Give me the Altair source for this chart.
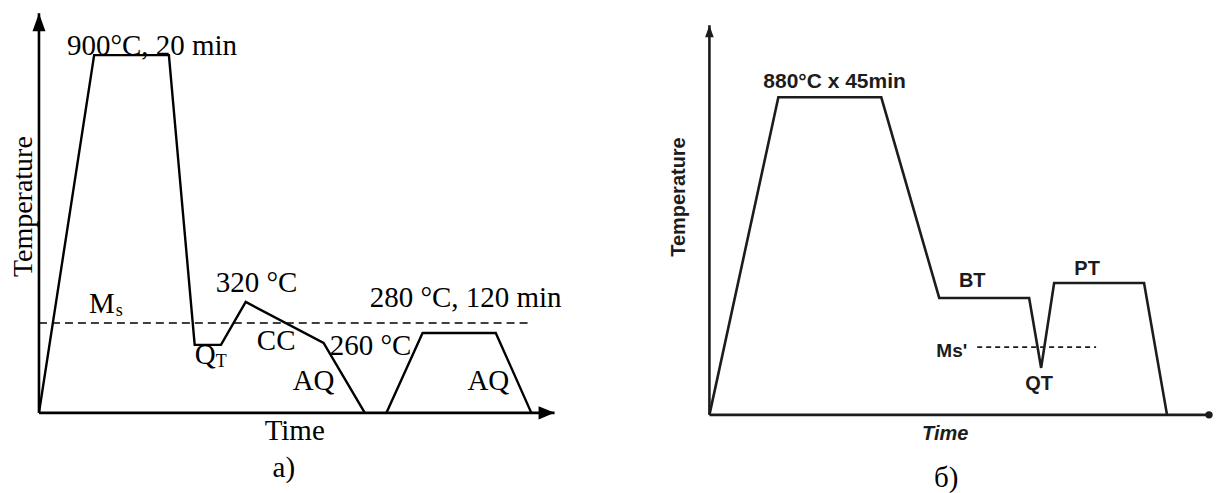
import altair as alt
import pandas as pd

# ---------------- Panel a) (schematic units: time 0..100, temperature 0..100) ----------------
a_time = [0, 10.7, 25.2, 30.2, 35.3, 40.1, 55.2, 63.2]
a_temp = [0, 89.5, 89.5, 17.0, 17.0, 27.75, 17.5, 0]
a2_time = [67.4, 74.4, 88.6, 95.5]
a2_temp = [0, 20, 20, 0]
a_ms_temp = 22.5
a_ms_end = 94.8

a_labels = ["900°C, 20 min", "320 °C", "280 °C, 120 min", "CC", "260 °C", "AQ", "AQ", "M", "Q"]
a_label_t = [5.43, 34.3, 64.15, 42.25, 56.4, 49.2, 83.1, 9.7, 30.2]
a_label_T = [89.5, 30.25, 26.5, 15.75, 14.5, 5.75, 5.75, 25.0, 12.25]
a_sub = ["s", "T"]
a_sub_t = [14.9, 34.3]
a_sub_T = [24.25, 11.5]

# ---------------- Panel б) ----------------
b_time = [0, 13.8, 34.4, 46.0, 64.0, 66.4, 69.0, 87.0, 91.6]
b_temp = [0, 81.5, 81.5, 30.0, 30.0, 12.05, 33.85, 33.85, 0]
b_ms_temp = 17.4
b_ms_start = 53.6
b_ms_end = 77.4

b_center_labels = ["BT", "PT", "QT"]
b_center_t = [52.6, 75.6, 66.0]
b_center_T = [32.8, 35.9, 6.4]

SERIF = "Liberation Serif"
SANS = "Liberation Sans"


def panel_a():
    xs = alt.Scale(domain=[-6.008, 108.72], nice=False, zero=False)
    ys = alt.Scale(domain=[-20, 101.25], nice=False, zero=False)
    X = lambda f: alt.X(f, type="quantitative", scale=xs, axis=None)
    Y = lambda f: alt.Y(f, type="quantitative", scale=ys, axis=None)

    l1 = pd.DataFrame({"t": a_time, "T": a_temp, "i": list(range(len(a_time)))})
    l2 = pd.DataFrame({"t": a2_time, "T": a2_temp, "i": list(range(len(a2_time)))})
    line1 = alt.Chart(l1).mark_line(color="black", strokeWidth=2.4).encode(X("t"), Y("T"), order="i:Q")
    line2 = alt.Chart(l2).mark_line(color="black", strokeWidth=2.4).encode(X("t"), Y("T"), order="i:Q")

    ms = pd.DataFrame({"t": [0], "t2": [a_ms_end], "T": [a_ms_temp]})
    msl = alt.Chart(ms).mark_rule(color="black", strokeWidth=1.6, strokeDash=[8, 5]).encode(
        X("t"), x2="t2:Q", y=Y("T"))

    ax = pd.DataFrame({"t": [0, 0], "t2": [100, 0], "T": [0, 0], "T2": [0, 100]})
    axes = alt.Chart(ax).mark_rule(color="black", strokeWidth=2.6).encode(
        X("t"), x2="t2:Q", y=Y("T"), y2="T2:Q")

    up = alt.Chart(pd.DataFrame({"t": [0], "T": [100]})).mark_point(
        shape="M0,0L-0.36,1L0.36,1Z", filled=True, opacity=1, color="black", size=1296, strokeWidth=0
    ).encode(X("t"), Y("T"))
    right = alt.Chart(pd.DataFrame({"t": [100], "T": [0]})).mark_point(
        shape="M0,0L-1,-0.42L-1,0.42Z", filled=True, opacity=1, color="black", size=1024, strokeWidth=0
    ).encode(X("t"), Y("T"))

    lab = pd.DataFrame({"t": a_label_t, "T": a_label_T, "s": a_labels})
    labels = alt.Chart(lab).mark_text(
        align="left", baseline="alphabetic", font=SERIF, fontSize=29, color="black"
    ).encode(X("t"), Y("T"), text="s:N")
    sub = pd.DataFrame({"t": a_sub_t, "T": a_sub_T, "s": a_sub})
    subs = alt.Chart(sub).mark_text(
        align="left", baseline="alphabetic", font=SERIF, fontSize=18, color="black"
    ).encode(X("t"), Y("T"), text="s:N")

    ttl_y = alt.Chart(pd.DataFrame({"t": [-2.9], "T": [51.6], "s": ["Temperature"]})).mark_text(
        align="center", baseline="middle", angle=270, font=SERIF, fontSize=28, color="black"
    ).encode(X("t"), Y("T"), text="s:N")
    ttl_x = alt.Chart(pd.DataFrame({"t": [49.6, 47.5], "T": [-6.75, -16.0], "s": ["Time", "a)"]})).mark_text(
        align="center", baseline="alphabetic", font=SERIF, fontSize=29, color="black"
    ).encode(X("t"), Y("T"), text="s:N")

    return alt.layer(axes, msl, line1, line2, up, right, labels, subs, ttl_y, ttl_x).properties(
        width=592, height=485)


def panel_b():
    xs = alt.Scale(domain=[-14, 100.6], nice=False, zero=False)
    ys = alt.Scale(domain=[-20, 104.36], nice=False, zero=False)
    X = lambda f: alt.X(f, type="quantitative", scale=xs, axis=None)
    Y = lambda f: alt.Y(f, type="quantitative", scale=ys, axis=None)
    ink = "#1c1c1c"

    l1 = pd.DataFrame({"t": b_time, "T": b_temp, "i": list(range(len(b_time)))})
    line1 = alt.Chart(l1).mark_line(color=ink, strokeWidth=2.6).encode(X("t"), Y("T"), order="i:Q")

    ms = pd.DataFrame({"t": [b_ms_start], "t2": [b_ms_end], "T": [b_ms_temp]})
    msl = alt.Chart(ms).mark_rule(color=ink, strokeWidth=1.8, strokeDash=[5, 4]).encode(
        X("t"), x2="t2:Q", y=Y("T"))

    ax = pd.DataFrame({"t": [0, 0], "t2": [100, 0], "T": [0, 0], "T2": [0, 100]})
    axes = alt.Chart(ax).mark_rule(color=ink, strokeWidth=2.6).encode(
        X("t"), x2="t2:Q", y=Y("T"), y2="T2:Q")

    up = alt.Chart(pd.DataFrame({"t": [0], "T": [100]})).mark_point(
        shape="M0,0L-0.36,1L0.36,1Z", filled=True, opacity=1, color=ink, size=576, strokeWidth=0
    ).encode(X("t"), Y("T"))
    dot = alt.Chart(pd.DataFrame({"t": [100], "T": [0]})).mark_point(
        shape="circle", filled=True, opacity=1, color=ink, size=55, strokeWidth=0
    ).encode(X("t"), Y("T"))

    top = alt.Chart(pd.DataFrame({"t": [10.8], "T": [83.85], "s": ["880°C x 45min"]})).mark_text(
        align="left", baseline="alphabetic", font=SANS, fontWeight="bold", fontSize=21, color=ink
    ).encode(X("t"), Y("T"), text="s:N")
    cen = alt.Chart(pd.DataFrame({"t": b_center_t, "T": b_center_T, "s": b_center_labels})).mark_text(
        align="center", baseline="alphabetic", font=SANS, fontWeight="bold", fontSize=20, color=ink
    ).encode(X("t"), Y("T"), text="s:N")
    msl_t = alt.Chart(pd.DataFrame({"t": [51.6], "T": [14.9], "s": ["Ms'"]})).mark_text(
        align="right", baseline="alphabetic", font=SANS, fontWeight="bold", fontSize=19, color=ink
    ).encode(X("t"), Y("T"), text="s:N")
    tx = alt.Chart(pd.DataFrame({"t": [47.2], "T": [-6.4], "s": ["Time"]})).mark_text(
        align="center", baseline="alphabetic", font=SANS, fontWeight="bold", fontStyle="italic",
        fontSize=20, color=ink
    ).encode(X("t"), Y("T"), text="s:N")
    ty = alt.Chart(pd.DataFrame({"t": [-6.0], "T": [55.9], "s": ["Temperature"]})).mark_text(
        align="center", baseline="middle", angle=270, font=SANS, fontWeight="bold", fontSize=20, color=ink
    ).encode(X("t"), Y("T"), text="s:N")
    cap = alt.Chart(pd.DataFrame({"t": [47.4], "T": [-18.5], "s": ["б)"]})).mark_text(
        align="center", baseline="alphabetic", font=SERIF, fontSize=29, color="black"
    ).encode(X("t"), Y("T"), text="s:N")

    return alt.layer(axes, msl, line1, up, dot, top, cen, msl_t, tx, ty, cap).properties(
        width=573, height=485)


chart = alt.hconcat(panel_a(), panel_b(), spacing=40).properties(
    padding=0, background="white"
).configure_view(stroke=None)

chart.save("out.html", embed_options={"renderer": "svg", "actions": False})
